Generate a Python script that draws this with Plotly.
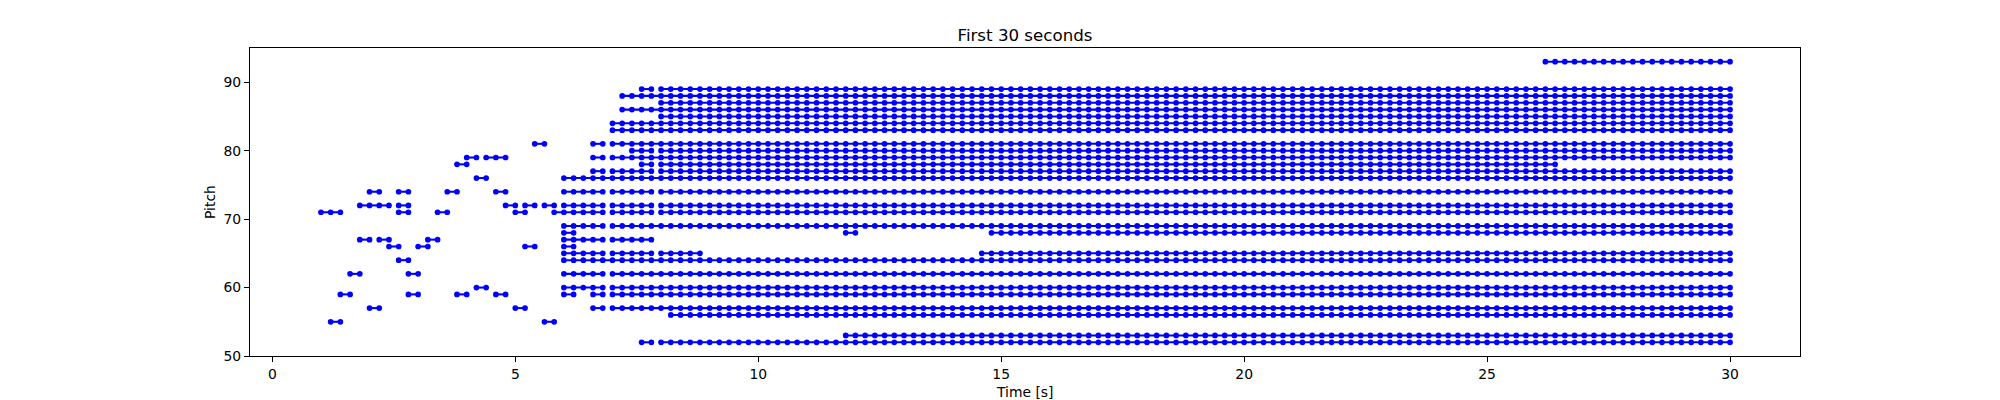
import plotly.graph_objects as go

# Beat grid, seconds
BEAT_TIMES = [
    1.0, 1.2, 1.4, 1.6, 1.8, 2.0, 2.2, 2.4, 2.6, 2.8, 3.0, 3.2, 3.4, 3.6, 3.8, 4.0, 4.2, 4.4, 4.6, 4.8,
    5.0, 5.2, 5.4, 5.6, 5.8, 6.0, 6.2, 6.4, 6.6, 6.8, 7.0, 7.2, 7.4, 7.6, 7.8, 8.0, 8.2, 8.4, 8.6, 8.8,
    9.0, 9.2, 9.4, 9.6, 9.8, 10.0, 10.2, 10.4, 10.6, 10.8, 11.0, 11.2, 11.4, 11.6, 11.8, 12.0, 12.2, 12.4, 12.6, 12.8,
    13.0, 13.2, 13.4, 13.6, 13.8, 14.0, 14.2, 14.4, 14.6, 14.8, 15.0, 15.2, 15.4, 15.6, 15.8, 16.0, 16.2, 16.4, 16.6, 16.8,
    17.0, 17.2, 17.4, 17.6, 17.8, 18.0, 18.2, 18.4, 18.6, 18.8, 19.0, 19.2, 19.4, 19.6, 19.8, 20.0, 20.2, 20.4, 20.6, 20.8,
    21.0, 21.2, 21.4, 21.6, 21.8, 22.0, 22.2, 22.4, 22.6, 22.8, 23.0, 23.2, 23.4, 23.6, 23.8, 24.0, 24.2, 24.4, 24.6, 24.8,
    25.0, 25.2, 25.4, 25.6, 25.8, 26.0, 26.2, 26.4, 26.6, 26.8, 27.0, 27.2, 27.4, 27.6, 27.8, 28.0, 28.2, 28.4, 28.6, 28.8,
    29.0, 29.2, 29.4, 29.6, 29.8, 30.0,
]

# Pitch rows and, for each, its runs as (first beat, last beat) positions in BEAT_TIMES
PITCHES = [93, 89, 88, 87, 86, 85, 84, 83, 81, 80, 79, 78, 77, 76, 74, 72, 71, 69, 68,
           67, 66, 65, 64, 62, 60, 59, 57, 56, 55, 53, 52]
PITCH_RUNS = [
    [(126, 145)],                                              # 93
    [(33, 34), (35, 145)],                                     # 89
    [(31, 145)],                                               # 88
    [(35, 145)],                                               # 87
    [(31, 145)],                                               # 86
    [(35, 145)],                                               # 85
    [(30, 145)],                                               # 84
    [(30, 145)],                                               # 83
    [(22, 23), (28, 29), (30, 145)],                           # 81
    [(32, 34), (35, 145)],                                     # 80
    [(15, 16), (17, 19), (28, 29), (30, 145)],                 # 79
    [(14, 15), (33, 34), (35, 127)],                           # 78
    [(28, 29), (30, 34), (35, 145)],                           # 77
    [(16, 17), (25, 145)],                                     # 76
    [(5, 6), (8, 9), (13, 14), (18, 19), (25, 29), (30, 34), (35, 145)],  # 74
    [(4, 7), (8, 9), (19, 20), (21, 22), (23, 24), (25, 29), (30, 34), (35, 145)],  # 72
    [(0, 2), (8, 9), (12, 13), (20, 21), (24, 29), (30, 34), (35, 145)],  # 71
    [(25, 29), (30, 145)],                                     # 69
    [(25, 26), (54, 55), (69, 145)],                           # 68
    [(4, 5), (6, 7), (11, 12), (25, 29), (30, 34)],            # 67
    [(7, 8), (10, 11), (21, 22), (25, 26)],                    # 66
    [(25, 29), (30, 34), (35, 39), (68, 145)],                 # 65
    [(8, 9), (25, 145)],                                       # 64
    [(3, 4), (9, 10), (25, 29), (30, 145)],                    # 62
    [(16, 17), (25, 29), (30, 145)],                           # 60
    [(2, 3), (9, 10), (14, 15), (18, 19), (25, 26), (28, 29), (30, 145)],  # 59
    [(5, 6), (20, 21), (28, 29), (30, 145)],                   # 57
    [(36, 145)],                                               # 56
    [(1, 2), (23, 24)],                                        # 55
    [(54, 145)],                                               # 53
    [(33, 34), (35, 145)],                                     # 52
]
X_TICKS = [0, 5, 10, 15, 20, 25, 30]
Y_TICKS = [50, 60, 70, 80, 90]
TITLE = "First 30 seconds"
X_LABEL = "Time [s]"
Y_LABEL = "Pitch"

xs, ys = [], []
for pitch, runs in zip(PITCHES, PITCH_RUNS):
    for first, last in runs:
        xs.extend(BEAT_TIMES[first:last + 1])
        ys.extend([pitch] * (last - first + 1))
        xs.append(None)
        ys.append(None)

FONT = "DejaVu Sans"
fig = go.Figure(go.Scatter(
    x=xs, y=ys, mode="lines+markers",
    line=dict(color="#0000ff", width=2.08),
    marker=dict(color="#0000ff", size=5.7, line=dict(width=0)),
    connectgaps=False, hoverinfo="skip",
))
axis_common = dict(
    showgrid=False, zeroline=False, showline=True, mirror=True, automargin=False,
    linecolor="black", linewidth=1.1, ticks="outside", ticklen=5, tickwidth=1.1,
    tickcolor="black", tickfont=dict(family=FONT, size=13.9, color="black"),
)
label_font = dict(family=FONT, size=13.9, color="black")
fig.update_layout(
    width=2000, height=400, showlegend=False,
    paper_bgcolor="white", plot_bgcolor="white",
    margin=dict(l=250, r=200, t=48, b=44, pad=0),
    font=dict(family=FONT, color="black"),
    title=dict(text=TITLE, x=0.5, xref="paper", xanchor="center", y=1, yref="paper",
               yanchor="bottom", pad=dict(b=7), font=dict(family=FONT, size=16.67, color="black"),
               automargin=False),
    xaxis=dict(range=[-0.46, 31.44], tickvals=X_TICKS, ticktext=[str(v) for v in X_TICKS], **axis_common),
    yaxis=dict(range=[50, 95], tickvals=Y_TICKS, ticktext=[str(v) for v in Y_TICKS], **axis_common),
    annotations=[
        dict(text=X_LABEL, xref="paper", yref="paper", x=0.5, y=0, yanchor="top", xanchor="center",
             yshift=-26, showarrow=False, font=label_font),
        dict(text=Y_LABEL, xref="paper", yref="paper", x=0, y=0.5, xanchor="right", yanchor="middle",
             xshift=-30, textangle=-90, showarrow=False, font=label_font),
    ],
)
fig.write_html("out.html", config={"displayModeBar": False},
               post_script="document.body.style.margin='0';window.dispatchEvent(new Event('resize'));")
